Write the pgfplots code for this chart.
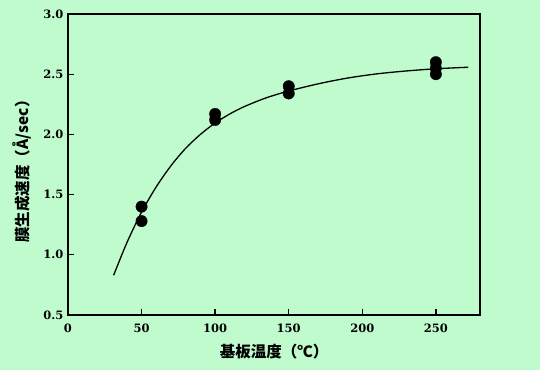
\documentclass[border=0pt]{standalone}
\usepackage{pgfplots}
\pgfplotsset{compat=1.18}
\usepackage{fontspec}
\setmainfont{DejaVu Serif}
\newfontfamily\cjk{Noto Sans CJK JP}
\definecolor{bgc}{RGB}{192,251,205}
\begin{document}
\begin{tikzpicture}[x=1pt,y=1pt]
\fill[bgc] (-68,-55) rectangle (472,315);
\begin{axis}[
  at={(0,0)}, anchor=south west,
  scale only axis, width=412pt, height=301pt,
  xmin=0, xmax=280, ymin=0.5, ymax=3.0,
  xtick={0,50,100,150,200,250},
  ytick={0.5,1.0,1.5,2.0,2.5,3.0},
  yticklabel style={/pgf/number format/fixed, /pgf/number format/fixed zerofill, /pgf/number format/precision=1, xshift=-1pt},
  /pgf/number format/assume math mode=true,
  tick pos=left, tick align=inside,
  major tick length=6pt,
  axis line style={line width=1.3pt},
  every tick/.style={line width=1.3pt, black},
  ticklabel style={font=\fontsize{11.5}{13}\selectfont\bfseries},
  xticklabel style={yshift=-5pt},
  xlabel={\cjk\bfseries 基板温度（℃）},
  ylabel={\cjk\bfseries 膜生成速度（Å/sec）},
  label style={font=\fontsize{15.5}{17}\selectfont},
  xlabel style={at={(axis description cs:0.5,-0.123)}, anchor=center},
  ylabel style={at={(axis description cs:-0.112,0.49)}, anchor=center},
]
\addplot[black, line width=1.3pt, smooth] coordinates {
(31,0.830) (40,1.100) (50,1.355) (60,1.565) (70,1.740) (80,1.885) (90,2.000)
(100,2.095) (110,2.170) (120,2.232) (135,2.305) (150,2.360) (170,2.420)
(190,2.468) (210,2.503) (230,2.527) (250,2.545) (272,2.558)
};
\addplot[only marks, mark=*, mark size=5.7pt, black] coordinates {
(50,1.40) (50,1.28) (100,2.17) (100,2.12) (150,2.40) (150,2.34)
(250,2.60) (250,2.55) (250,2.50)
};
\end{axis}
\end{tikzpicture}
\end{document}
